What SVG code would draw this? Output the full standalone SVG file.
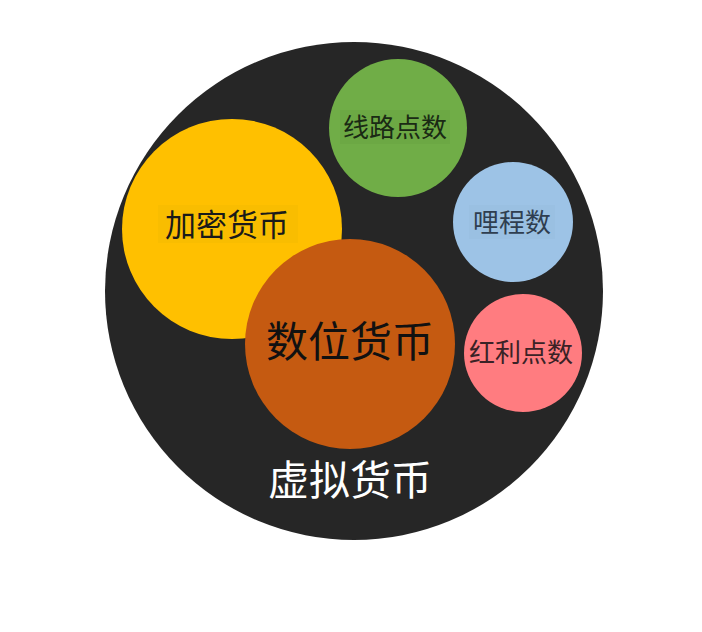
<svg xmlns="http://www.w3.org/2000/svg" width="702" height="632" viewBox="0 0 702 632">
<style>
text{font-family:"Noto Sans CJK SC","Noto Sans CJK TC",sans-serif;text-anchor:middle}
.s{font-size:26px}
</style>
<rect width="702" height="632" fill="#ffffff"/>
<g id="virtual">
<circle cx="354" cy="291" r="249" fill="#262626"/>
<text x="350" y="495" font-size="41" fill="#ffffff">虚拟货币</text>
</g>
<g id="crypto">
<circle cx="232" cy="229" r="110" fill="#FFC000"/>
<rect x="158" y="205" width="140" height="38" fill="#F9BD00"/>
<text x="227" y="236" font-size="31" fill="#1a1a1a">加密货币</text>
</g>
<g id="digital">
<circle cx="350" cy="344" r="105" fill="#C55A11"/>
<text x="350" y="357" font-size="42" fill="#111111">数位货币</text>
</g>
<g id="line">
<circle cx="398" cy="128" r="69" fill="#70AD47"/>
<rect x="340" y="110" width="110" height="34" fill="#6CA844"/>
<text class="s" x="395" y="137" fill="#1a2a14">线路点数</text>
</g>
<g id="mileage">
<circle cx="513" cy="222" r="60" fill="#9DC3E6"/>
<rect x="469" y="205" width="86" height="34" fill="#9AC0E2"/>
<text class="s" x="512" y="232" fill="#2F3E50">哩程数</text>
</g>
<g id="bonus">
<circle cx="523" cy="353" r="59" fill="#FF7C80"/>
<text class="s" x="521" y="362" fill="#3a2226">红利点数</text>
</g>
<g id="connectors"/>
</svg>
